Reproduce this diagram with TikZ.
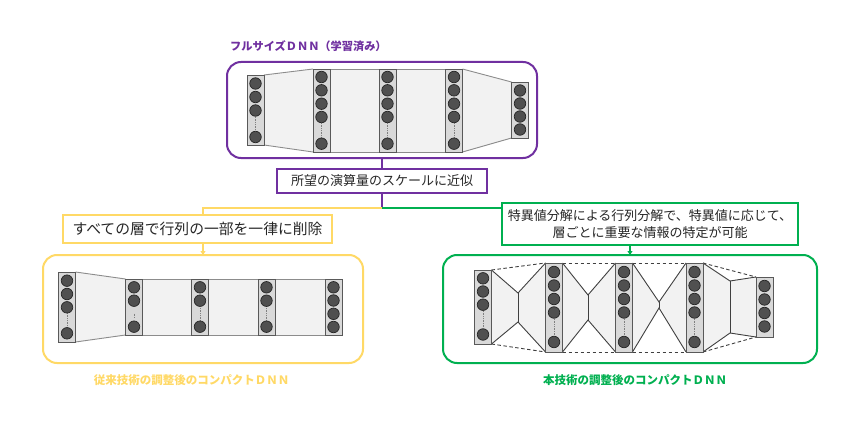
\documentclass[tikz,border=0pt]{standalone}
\usepackage{fontspec}
\setmainfont{Noto Sans CJK JP}
\usetikzlibrary{arrows.meta}
\pgfdeclarelayer{bg}
\pgfdeclarelayer{gaps}
\pgfsetlayers{bg,gaps,main}
\definecolor{dpurple}{HTML}{7030A0}
\definecolor{dyellow}{HTML}{FFD966}
\definecolor{dgreen}{HTML}{00B050}
\definecolor{lgfill}{HTML}{D9D9D9}
\definecolor{lgborder}{HTML}{595959}
\definecolor{nfill}{HTML}{505050}
\definecolor{nborder}{HTML}{262626}
\definecolor{gapgray}{HTML}{F2F2F2}
\definecolor{gapedge}{HTML}{8C8C8C}
\definecolor{hgedge}{HTML}{404040}
\definecolor{txt}{HTML}{262626}

\newcommand\dnnlayer[7]{%
  \node[layerbox, minimum height={#4-#3}] (#1) at (#2,{(#3+#4)/2}) {};
  \if\relax\detokenize{#6}\relax\else
    \coordinate (#1-da) at (#2,#6);
    \coordinate (#1-db) at (#2,#7);
    \draw[dotline] (#1-da) -- (#1-db);
  \fi
  \foreach \cy [count=\ci] in {#5} {\node[neuron] (#1-\ci) at (#2,\cy) {};}
}
\newcommand\trapgap[2]{%
  \fill[gapfill] (#1.north east) -- (#2.north west) -- (#2.south west) -- (#1.south east) -- cycle;
  \draw[gapline] (#1.north east) -- (#2.north west);
  \draw[gapline] (#1.south east) -- (#2.south west);
}
\newcommand\hourglass[5]{%
  \coordinate (#1#2t) at (#3,#4);
  \coordinate (#1#2b) at (#3,#5);
  \fill[gapfill] (#1.north east) -- (#1#2t) -- (#2.north west) -- (#2.south west) -- (#1#2b) -- (#1.south east) -- cycle;
  \draw[hgdash] (#1.north east) -- (#2.north west);
  \draw[hgdash] (#1.south east) -- (#2.south west);
  \draw[hgline] (#1.north east) -- (#1#2t) -- (#2.north west);
  \draw[hgline] (#1.south east) -- (#1#2b) -- (#2.south west);
  \draw[hgline] (#1#2t) -- (#1#2b);
}

\begin{document}
\begin{tikzpicture}[x=1pt,y=-1pt,
  layerbox/.style={draw=lgborder, fill=lgfill, line width=0.9pt, minimum width=17pt, inner sep=0pt, outer sep=0pt},
  neuron/.style={circle, draw=nborder, fill=nfill, line width=0.7pt, minimum size=11.5pt, inner sep=0pt},
  dotline/.style={draw=gray, line width=0.6pt, dash pattern=on 1pt off 0.7pt},
  gapfill/.style={fill=gapgray},
  gapline/.style={draw=gapedge, line width=0.9pt},
  hgline/.style={draw=hgedge, line width=0.9pt},
  hgdash/.style={draw=hgedge, line width=0.9pt, dash pattern=on 3.5pt off 2.5pt},
  groupbox/.style={draw, rounded corners=14pt, line width=2pt, inner sep=0pt, outer sep=0pt},
  textbox/.style={draw, line width=1.8pt, inner sep=0pt, outer sep=0pt, text=txt, align=center},
  title/.style={font=\bfseries\fontsize{11.5}{13}\selectfont, inner sep=0pt},
  link/.style={line width=1.5pt},
  tip/.style={-{Triangle[width=5pt,length=4pt]}, line width=1.5pt}
]
\begin{pgfonlayer}{bg}
\useasboundingbox[fill=white] (0,0) rectangle (860,428);
\end{pgfonlayer}

% ---------------- top: full size DNN ----------------
\node[title, text=dpurple, font=\bfseries\fontsize{11.2}{13}\selectfont, anchor=west] (ttitle) at (230,46) {フルサイズＤＮＮ（学習済み）};
\node[groupbox, draw=dpurple, minimum width=310pt, minimum height=96pt] (topbox) at (382,110) {};

\dnnlayer{ta}{255.5}{75}{145}{83.5,97,110.5,137}{117}{130}
\dnnlayer{tb}{321.5}{69}{152}{77,90.3,103.7,117,143.7}{123}{137}
\dnnlayer{tc}{387.5}{69}{152}{77,90.3,103.7,117,143.7}{123}{137}
\dnnlayer{td}{454}{69}{152}{77,90.3,103.7,117,143.7}{123}{137}
\dnnlayer{te}{520}{82}{138}{90.5,103.5,116.5,129.5}{}{}

% ---------------- middle text ----------------
\node[textbox, draw=dpurple, minimum width=210pt, minimum height=24pt, font=\fontsize{13}{15}\selectfont] (mid) at (382,181) {所望の演算量のスケールに近似};
\coordinate (split) at (382,208);

% ---------------- left: conventional ----------------
\node[textbox, draw=dyellow, minimum width=269pt, minimum height=28pt, font=\fontsize{14.8}{17}\selectfont] (ytext) at (197.5,229) {すべての層で行列の一部を一律に削除};
\node[groupbox, draw=dyellow, minimum width=320pt, minimum height=108pt] (ybox) at (203,309) {};
\node[title, text=dyellow] (ytitle) at (191.7,380) {従来技術の調整後のコンパクトＤＮＮ};

\dnnlayer{ya}{67}{272}{342}{280.7,294,307.3,333.3}{313}{327}
\dnnlayer{yb}{134}{279}{335}{287.3,300.7,326.7}{313.5}{318.5}
\dnnlayer{yc}{200}{279}{335}{287.3,300.7,326.7}{308}{320}
\dnnlayer{yd}{266.5}{279}{335}{287.3,300.7,326.7}{308}{320}
\dnnlayer{ye}{333.5}{279}{335}{287.3,300.5,313.8,327}{}{}

% ---------------- right: proposed ----------------
\node[textbox, draw=dgreen, minimum width=296pt, minimum height=42pt, font=\fontsize{13}{16.5}\selectfont] (gtext) at (650,224) {特異値分解による行列分解で、特異値に応じて、\\層ごとに重要な情報の特定が可能};
\node[groupbox, draw=dgreen, minimum width=374pt, minimum height=108pt] (gbox) at (630,309) {};
\node[title, text=dgreen] (gtitle) at (635,380) {本技術の調整後のコンパクトＤＮＮ};

\dnnlayer{ga}{483}{270}{344}{278.3,291.5,304.7,334.5}{311}{328}
\dnnlayer{gb}{554}{263}{352}{272,285.5,299,312.5,342}{319}{335}
\dnnlayer{gc}{624}{263}{352}{272,285.5,299,312.5,342}{319}{335}
\dnnlayer{gd}{694.5}{263}{352}{272,285.5,299,312.5,342}{319}{335}
\dnnlayer{ge}{764.5}{277}{337}{286,299.5,313,326.5}{}{}

% ---------------- gaps between layers (behind the layers) ----------------
\begin{pgfonlayer}{gaps}
\trapgap{ta}{tb}\trapgap{tb}{tc}\trapgap{tc}{td}\trapgap{td}{te}
\trapgap{ya}{yb}\trapgap{yb}{yc}\trapgap{yc}{yd}\trapgap{yd}{ye}
\hourglass{ga}{gb}{518}{293}{322}
\hourglass{gb}{gc}{588}{295}{320}
\hourglass{gc}{gd}{659}{302}{308}
\hourglass{gd}{ge}{730}{281}{333}
\end{pgfonlayer}

% ---------------- connectors ----------------
\draw[link, dpurple] (topbox.south) -- (mid.north);
\draw[link, dpurple] (mid.south) -- (split);
\draw[link, dyellow] (split) -| (ybox.north |- ytext.north);
\draw[link, dgreen] (split) -- (split -| gtext.west);
\draw[tip, dyellow] (ybox.north |- ytext.south) -- (ybox.north);
\draw[tip, dgreen] (gbox.north |- gtext.south) -- (gbox.north);
\end{tikzpicture}
\end{document}
